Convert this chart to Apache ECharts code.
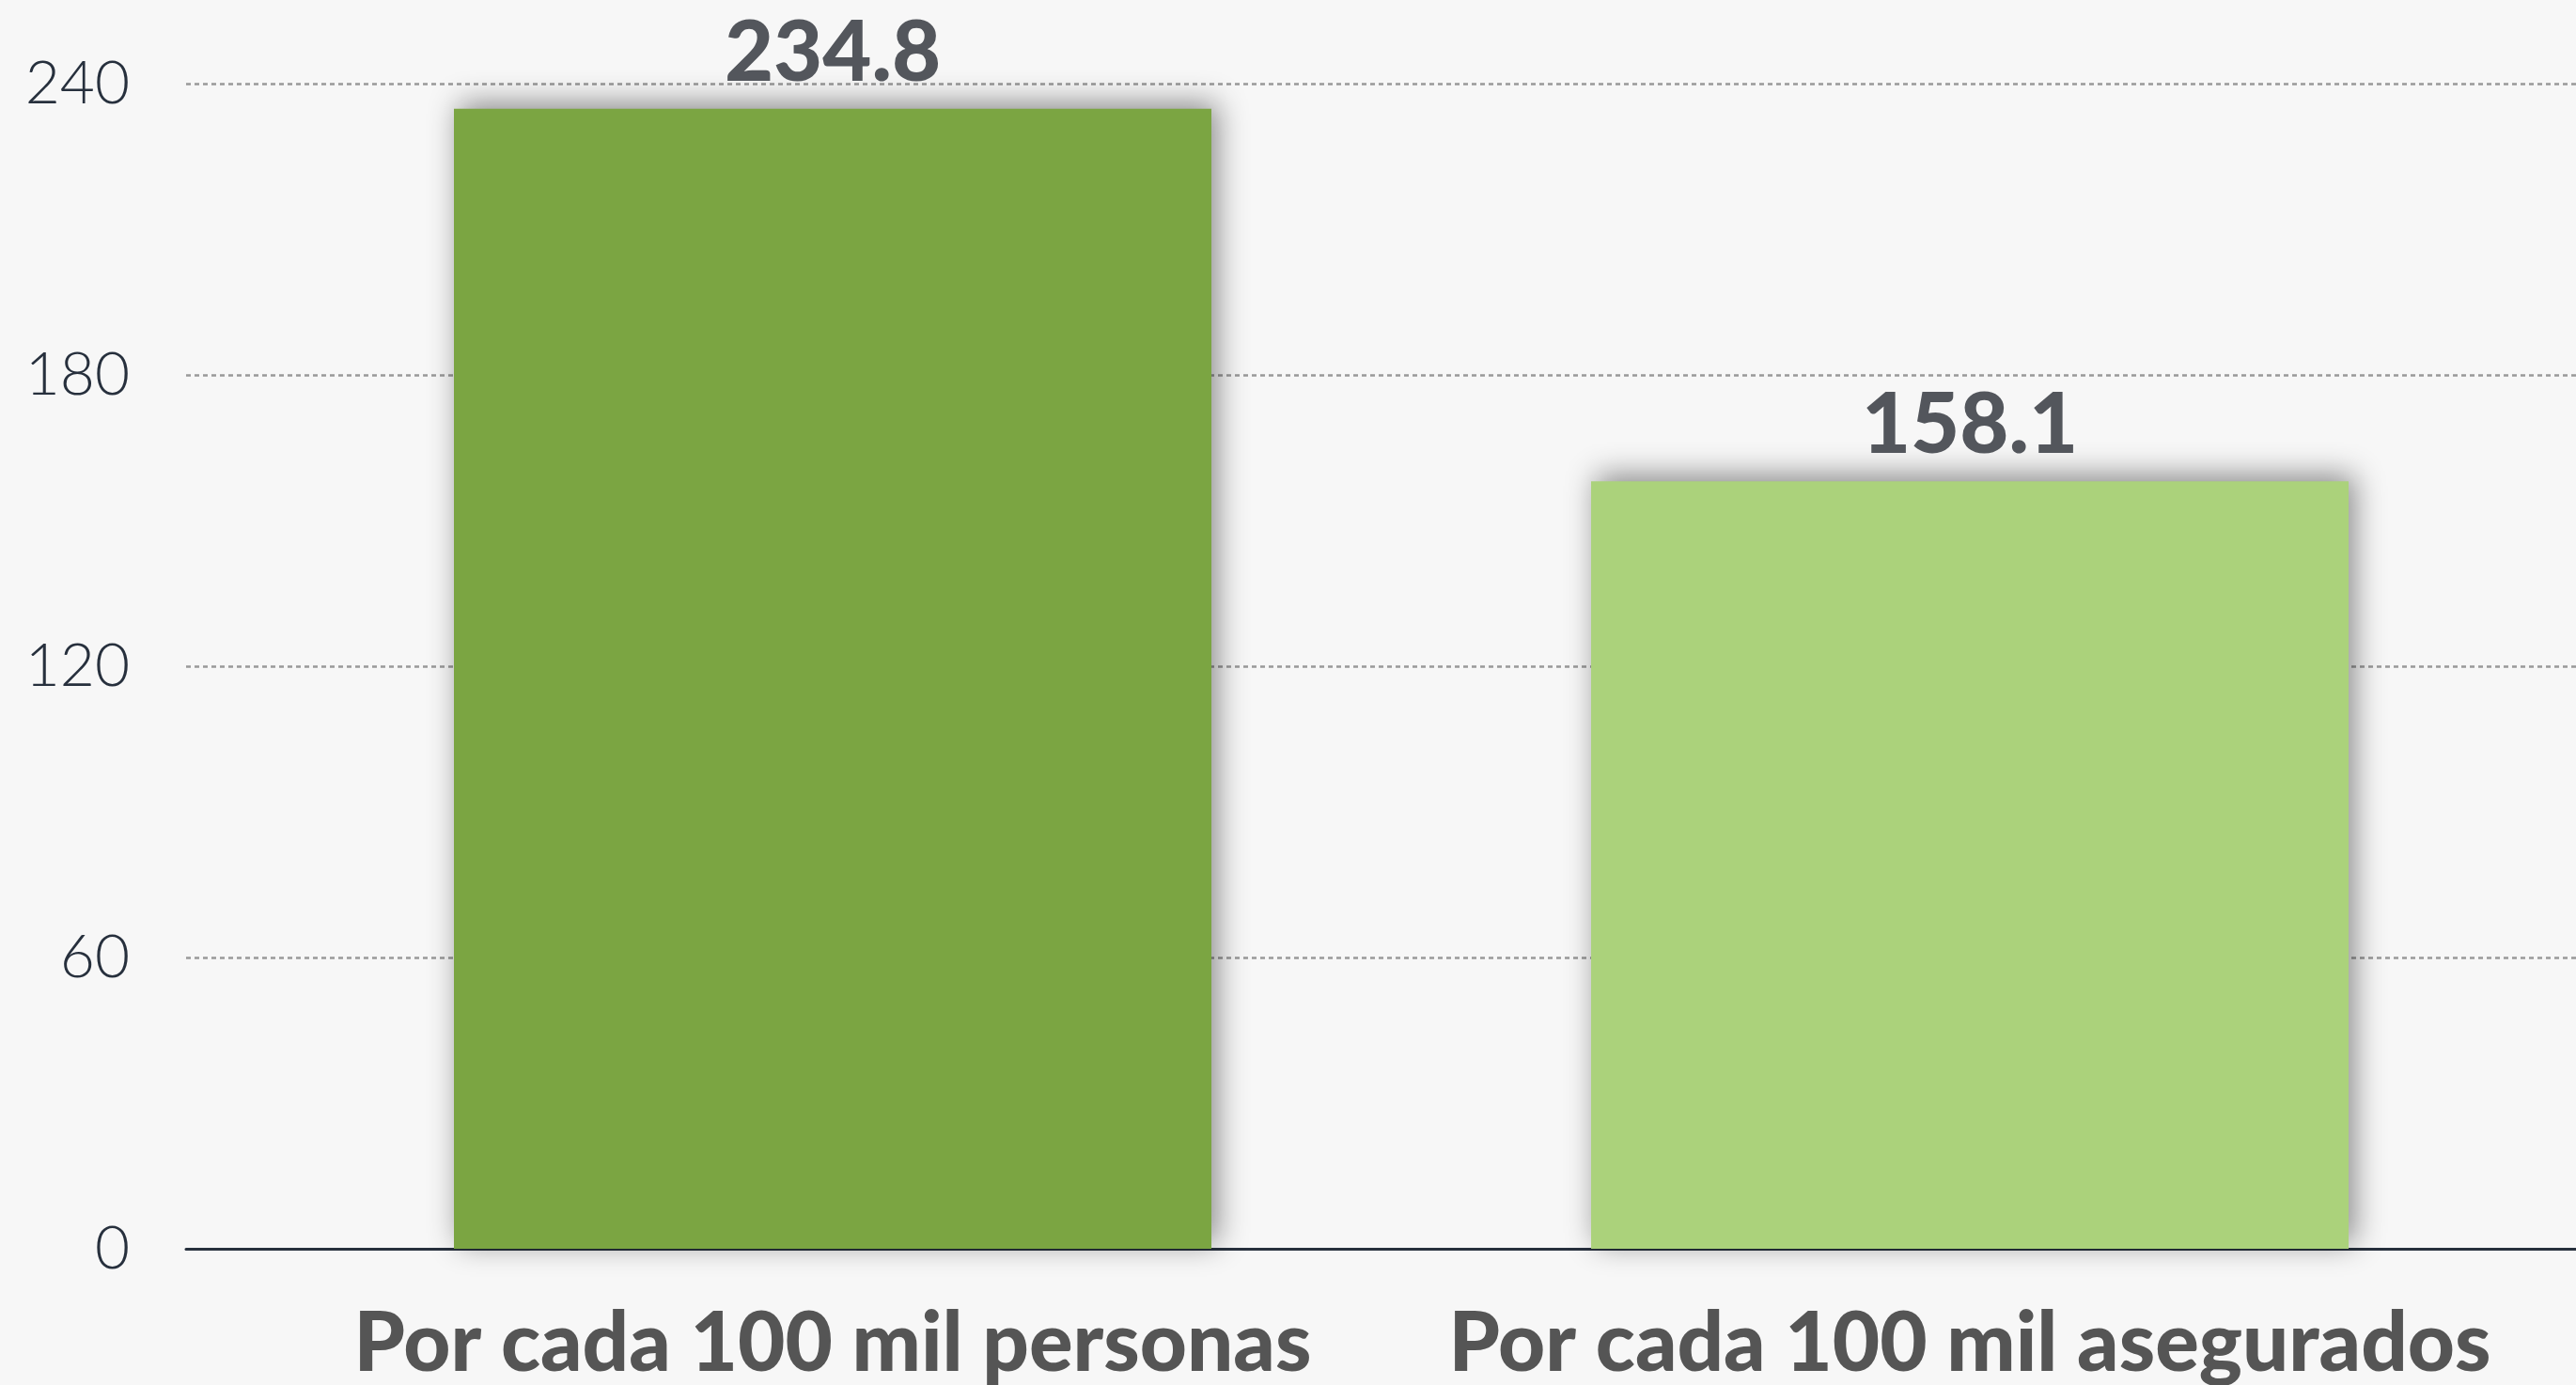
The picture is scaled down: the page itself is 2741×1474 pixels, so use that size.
<!DOCTYPE html>
<html>
<head>
<meta charset="utf-8">
<script src="https://cdn.jsdelivr.net/npm/echarts@6/dist/echarts.min.js"></script>
<style>
html,body{margin:0;padding:0;background:#f7f7f7;}
#chart{width:2741px;height:1474px;}
</style>
</head>
<body>
<div id="chart"></div>
<script>
const categories = ['Por cada 100 mil personas', 'Por cada 100 mil asegurados'];
const values = [234.8, 158.1];
const barColors = ['#7ba542', '#abd27b'];
const yMin = 0, yMax = 240, yInterval = 60;

const chart = echarts.init(document.getElementById('chart'));
chart.setOption({
  backgroundColor: '#f7f7f7',
  animation: false,
  grid: [
    { left: 281, right: 40, top: 89, bottom: 145 },
    { left: 198, right: 0, top: 89, bottom: 145 }
  ],
  xAxis: [
    {
      type: 'category', gridIndex: 0, data: categories,
      axisLine: { show: false }, axisTick: { show: false },
      axisLabel: { interval: 0, color: '#555555', fontFamily: 'Lato', fontWeight: 900, fontSize: 87, margin: 58 }
    },
    {
      type: 'category', gridIndex: 1, data: ['a'],
      axisLine: { show: true, lineStyle: { color: '#27303d', width: 3 } },
      axisTick: { show: false }, axisLabel: { show: false }
    }
  ],
  yAxis: [
    {
      type: 'value', gridIndex: 0, min: yMin, max: yMax, interval: yInterval,
      axisLabel: { show: false }, splitLine: { show: false }, axisLine: { show: false }, axisTick: { show: false }
    },
    {
      type: 'value', gridIndex: 1, min: yMin, max: yMax, interval: yInterval,
      axisLine: { show: false }, axisTick: { show: false },
      axisLabel: { color: '#27303d', fontFamily: 'Lato', fontWeight: 300, fontSize: 64, margin: 60 },
      splitLine: { show: true, lineStyle: { color: '#999999', width: 2.5, type: [5, 4] } }
    }
  ],
  series: [{
    type: 'bar', xAxisIndex: 0, yAxisIndex: 0,
    barWidth: 806,
    data: values.map((v, i) => ({ value: v, itemStyle: { color: barColors[i] } })),
    itemStyle: {
      shadowBlur: 30, shadowColor: 'rgba(0,0,0,0.45)', shadowOffsetX: 6, shadowOffsetY: -6
    },
    label: {
      show: true, position: 'top', distance: 14,
      color: '#53565c', fontFamily: 'Lato', fontWeight: 900, fontSize: 90,
      formatter: p => p.value.toFixed(1)
    }
  }]
});
</script>
</body>
</html>
